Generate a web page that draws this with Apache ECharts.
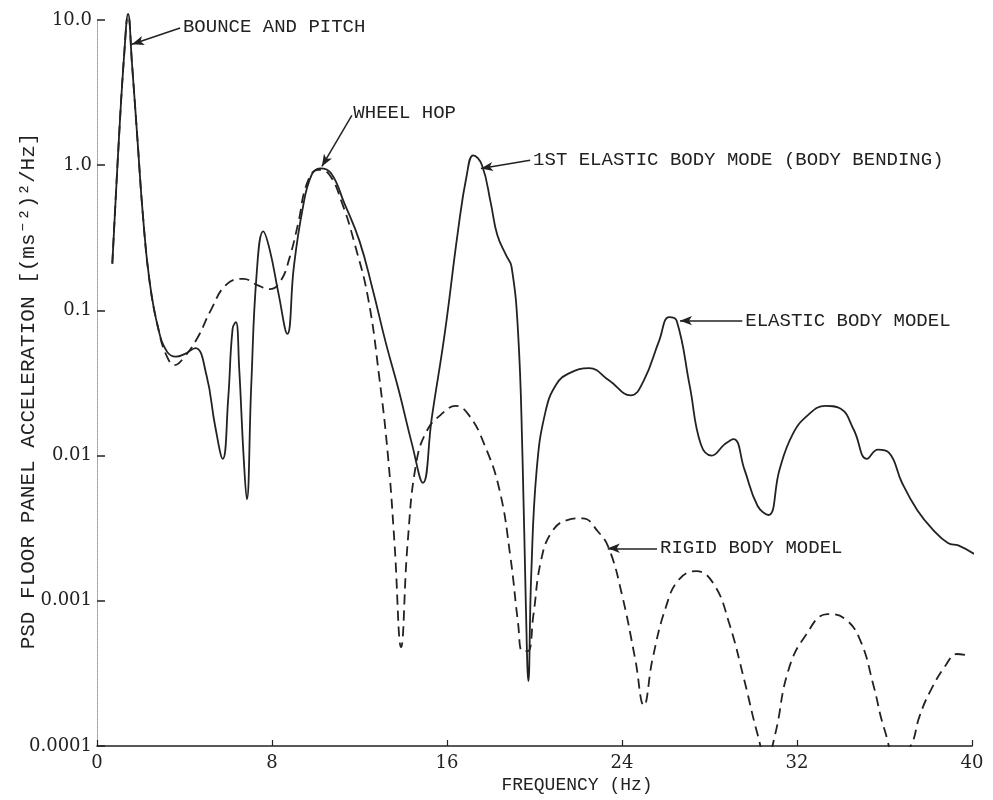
<!DOCTYPE html>
<html>
<head>
<meta charset="utf-8">
<script src="https://cdn.jsdelivr.net/npm/echarts@6/dist/echarts.min.js"></script>
<style>
html,body{margin:0;padding:0;background:#fff;}
#chart{width:993px;height:800px;}
</style>
</head>
<body>
<div id="chart"></div>
<script>
// ---- data ----
const xTicks = [0, 8, 16, 24, 32, 40];
const yTickLabels = {"1": "10.0", "0": "1.0", "-1": "0.1", "-2": "0.01", "-3": "0.001", "-4": "0.0001"};

const elasticFreq = [0.7,1.0,1.25,1.42,1.6,1.85,2.1,2.4,2.8,3.2,3.6,4.0,4.5,5.0,5.4,5.75,6.0,6.2,6.35,6.5,6.7,6.85,7.05,7.3,7.6,7.9,8.3,8.7,9.0,9.4,9.8,10.2,10.7,11.3,12.0,12.6,13.2,13.8,14.4,14.9,15.3,15.9,16.5,16.9,17.2,17.6,18.0,18.3,18.7,18.95,19.25,19.45,19.6,19.72,19.85,20.1,20.5,21.0,21.6,22.5,23.4,24.4,25.0,25.7,26.15,26.5,27.1,27.6,28.1,28.7,29.1,29.6,30.2,30.7,31.2,31.8,32.5,33.3,34.0,34.6,35.2,35.7,36.2,36.8,37.5,38.2,38.9,39.4,40.1];
const elasticPSD = [0.21,1.5,6,11,5,1.5,0.45,0.16,0.075,0.052,0.048,0.05,0.055,0.036,0.016,0.0095,0.025,0.075,0.083,0.04,0.01,0.005,0.03,0.18,0.35,0.26,0.13,0.069,0.2,0.5,0.85,0.95,0.88,0.55,0.3,0.14,0.06,0.028,0.012,0.0065,0.018,0.07,0.35,0.85,1.17,1.0,0.55,0.33,0.24,0.2,0.07,0.01,0.001,0.00028,0.0015,0.008,0.02,0.031,0.037,0.04,0.033,0.026,0.033,0.062,0.09,0.085,0.03,0.012,0.01,0.012,0.013,0.008,0.0045,0.0039,0.008,0.014,0.019,0.022,0.021,0.015,0.0095,0.011,0.0105,0.0065,0.0042,0.0031,0.0025,0.0024,0.0021];

const rigidFreq = [0.7,1.0,1.25,1.42,1.6,1.85,2.1,2.4,2.8,3.2,3.55,4.0,4.6,5.2,5.9,6.7,7.3,7.9,8.4,8.8,9.2,9.6,10.1,10.6,11.2,11.8,12.4,12.9,13.3,13.6,13.9,14.2,14.6,15.1,15.7,16.4,17.0,17.7,18.4,18.9,19.25,19.45,19.7,19.95,20.3,20.8,21.5,22.2,22.9,23.4,24.0,24.6,25.0,25.4,26.0,26.6,27.4,28.2,28.9,29.6,30.2,30.6,31.0,31.6,32.4,33.4,34.2,34.9,35.5,36.0,36.6,37.2,37.6,38.1,38.8,39.3,39.8];
const rigidPSD = [0.21,1.5,6,11,5,1.5,0.45,0.16,0.075,0.048,0.042,0.048,0.065,0.1,0.15,0.165,0.15,0.14,0.16,0.23,0.4,0.75,0.93,0.87,0.55,0.28,0.12,0.035,0.01,0.0025,0.00048,0.0025,0.009,0.015,0.019,0.022,0.019,0.012,0.0058,0.002,0.0007,0.00045,0.00045,0.0008,0.0019,0.003,0.0036,0.0037,0.003,0.0023,0.0011,0.0004,0.00019,0.0004,0.0009,0.0014,0.0016,0.0013,0.0007,0.00028,0.00012,0.00008,0.00012,0.00033,0.00058,0.00081,0.00075,0.00053,0.00026,0.00013,0.00008,0.0001,0.00016,0.00024,0.00036,0.00043,0.00042];

// annotations: [label, startFreq, startPSD, endFreq, endPSD]
const annotations = [
  ["BOUNCE AND PITCH", 3.8, 8.8, 1.6, 6.8],
  ["WHEEL HOP", 11.65, 2.2, 10.28, 0.98],
  ["1ST ELASTIC BODY MODE (BODY BENDING)", 19.8, 1.08, 17.55, 0.95],
  ["ELASTIC BODY MODEL", 29.5, 0.085, 26.65, 0.085]
];
const rigidAnnotation = ["RIGID BODY MODEL", 25.6, 0.0023, 23.35, 0.0023];

// ---- chart ----
const ink = '#222';
const labelFont = '"Liberation Mono", "DejaVu Sans Mono", monospace';
const numFont = '"DejaVu Serif", "Liberation Serif", serif';

function zip(a, b) { return a.map((v, i) => [v, b[i]]); }
function markLineFor(list) {
  return {
    silent: true,
    animation: false,
    symbolSize: [7, 12],
    lineStyle: {color: ink, width: 1.5, type: 'solid'},
    label: {
      show: true,
      position: 'start',
      formatter: p => p.name,
      color: ink,
      fontFamily: labelFont,
      fontSize: 19,
      align: 'left',
      verticalAlign: 'middle',
      distance: 3
    },
    emphasis: {disabled: true},
    data: list.map(a => [
      {coord: [a[1], a[2]], symbol: 'none', name: a[0]},
      {coord: [a[3], a[4]], symbol: 'arrow'}
    ])
  };
}

const chart = echarts.init(document.getElementById('chart'), null, {renderer: 'canvas'});
chart.setOption({
  animation: false,
  backgroundColor: '#fff',
  grid: {left: 97, right: 21, top: 20, bottom: 54, containLabel: false, outerBoundsMode: 'none'},
  xAxis: {
    type: 'value', min: xTicks[0], max: xTicks[xTicks.length - 1], interval: 8,
    name: 'FREQUENCY (Hz)', nameLocation: 'middle', nameGap: 30, nameMoveOverlap: false,
    nameTextStyle: {color: ink, fontFamily: labelFont, fontSize: 18, padding: [0, 0, 0, 85]},
    axisLine: {show: true, lineStyle: {color: ink, width: 1.6}},
    axisTick: {show: true, inside: true, length: 6, lineStyle: {color: ink, width: 1.2}},
    axisLabel: {color: ink, fontFamily: numFont, fontSize: 18, margin: 8},
    splitLine: {show: false}
  },
  yAxis: {
    type: 'log', logBase: 10, min: 0.0001, max: 10,
    name: 'PSD FLOOR PANEL ACCELERATION [(ms\u207B\u00B2)\u00B2/Hz]', nameLocation: 'middle', nameGap: 58, nameMoveOverlap: false,
    nameTextStyle: {color: ink, fontFamily: labelFont, fontSize: 21, padding: [0, 16, 0, 0]},
    axisLine: {show: true, lineStyle: {color: '#999', width: 1, type: 'dotted'}},
    axisTick: {show: true, inside: true, length: 8, lineStyle: {color: ink, width: 1.5}},
    axisLabel: {
      color: ink, fontFamily: numFont, fontSize: 18, margin: 5,
      formatter: v => yTickLabels[String(Math.round(Math.log10(v)))] || ''
    },
    splitLine: {show: false},
    minorTick: {show: false}
  },
  series: [
    {
      name: 'Rigid body model', type: 'line', data: zip(rigidFreq, rigidPSD),
      showSymbol: false, symbol: 'none', smooth: 0.45, clip: true,
      lineStyle: {color: ink, width: 1.8, type: [10, 6]},
      markLine: markLineFor([rigidAnnotation]),
      z: 2
    },
    {
      name: 'Elastic body model', type: 'line', data: zip(elasticFreq, elasticPSD),
      showSymbol: false, symbol: 'none', smooth: 0.45, clip: false,
      lineStyle: {color: ink, width: 1.8, type: 'solid'},
      markLine: markLineFor(annotations),
      z: 3
    }
  ]
});
</script>
</body>
</html>
